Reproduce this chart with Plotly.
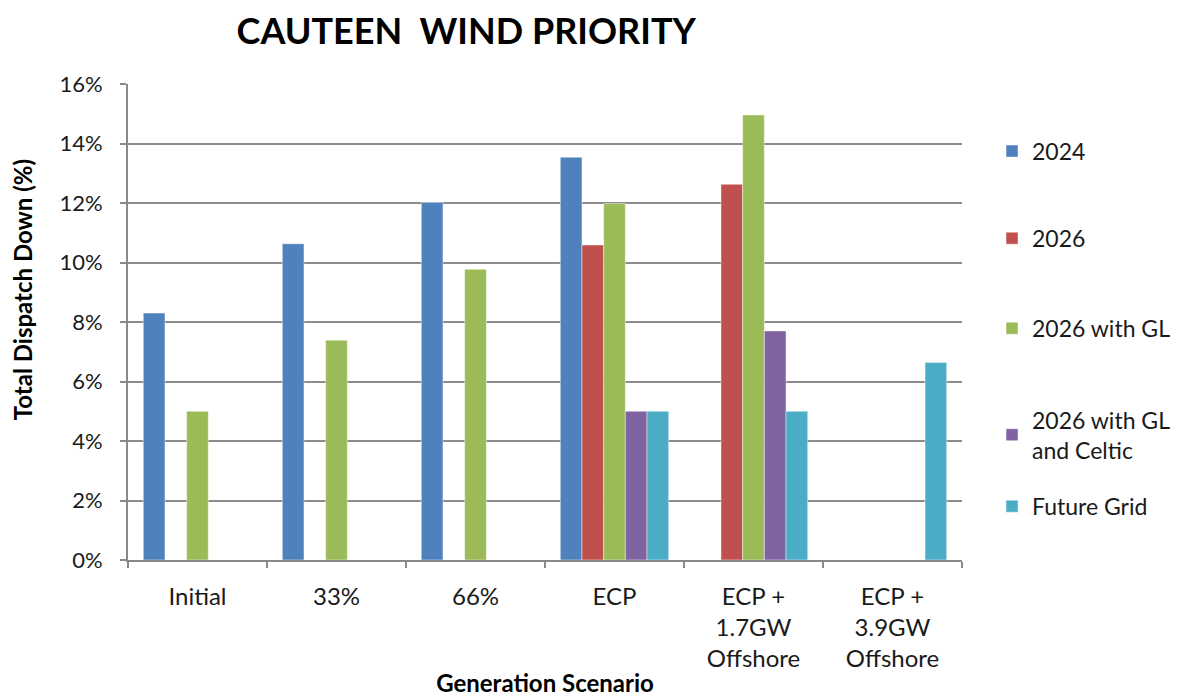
import plotly.graph_objects as go

categories = ["Initial", "33%", "66%", "ECP", "ECP +<br>1.7GW<br>Offshore", "ECP +<br>3.9GW<br>Offshore"]
series_names = ["2024", "2026", "2026 with GL", "2026 with GL<br>and Celtic", "Future Grid"]
v_2024 = [8.3, 10.63, 12.02, 13.54, None, None]
v_2026 = [None, None, None, 10.59, 12.63, None]
v_2026_gl = [5.0, 7.39, 9.77, 11.98, 14.96, None]
v_2026_gl_celtic = [None, None, None, 5.0, 7.7, None]
v_future_grid = [None, None, None, 5.0, 5.0, 6.64]
colors = ["#4F81BD", "#C0504D", "#9BBB59", "#8064A2", "#4BACC6"]
y_ticks = [0, 2, 4, 6, 8, 10, 12, 14, 16]

series_values = [v_2024, v_2026, v_2026_gl, v_2026_gl_celtic, v_future_grid]
legend_ids = ["legend", "legend2", "legend3", "legend4", "legend5"]
legend_y = [0.859, 0.676, 0.487, 0.263, 0.113]

FONT = "Lato, 'Open Sans', sans-serif"

fig = go.Figure()
for name, vals, col, lid in zip(series_names, series_values, colors, legend_ids):
    fig.add_trace(go.Bar(
        x=categories, y=vals, name=name,
        marker=dict(color=col, line=dict(color="rgba(255,255,255,0.45)", width=1)),
        legend=lid,
    ))

legend_common = dict(x=1.036, xanchor="left", yanchor="middle",
                     font=dict(family=FONT, size=23, color="#1a1a1a"),
                     bgcolor="rgba(0,0,0,0)", itemwidth=30)
layout_legends = {}
for lid, ly in zip(legend_ids, legend_y):
    layout_legends[lid] = dict(legend_common, y=ly)

fig.update_layout(
    width=1181, height=696,
    paper_bgcolor="white", plot_bgcolor="white",
    margin=dict(l=120, r=227, t=76, b=144),
    barmode="group", bargap=0.22, bargroupgap=0,
    showlegend=True,
    title=dict(text="<b>CAUTEEN  WIND PRIORITY</b>", x=0.388, xanchor="center",
               y=0.966, yanchor="middle", xref="container", yref="container",
               font=dict(family=FONT, size=36, color="black")),
    font=dict(family=FONT, size=20, color="#1a1a1a"),
    xaxis=dict(
        showline=True, linecolor="#898989", linewidth=2,
        ticks="outside", tickson="boundaries", ticklen=6, tickcolor="#898989", tickwidth=2,
        tickfont=dict(family=FONT, size=24, color="#1a1a1a"),
        ticklabelstandoff=14,
        title=dict(text="<b>Generation Scenario</b>", standoff=4,
                   font=dict(family=FONT, size=24, color="black")),
        automargin=False,
    ),
    yaxis=dict(
        range=[0, 16], tickvals=y_ticks, ticktext=[f"{t}%" for t in y_ticks],
        showline=True, linecolor="#898989", linewidth=2,
        ticks="outside", ticklen=6, tickcolor="#898989", tickwidth=2,
        showgrid=True, gridcolor="#8c8c8c", gridwidth=2,
        zeroline=False,
        tickfont=dict(family=FONT, size=22, color="#1a1a1a"),
        ticklabelstandoff=13,
        automargin=False,
    ),
    annotations=[dict(
        text="<b>Total Dispatch Down (%)</b>", textangle=-90,
        xref="paper", yref="paper", x=-0.127, y=0.567,
        xanchor="center", yanchor="middle", showarrow=False,
        font=dict(family=FONT, size=24, color="black"),
    )],
    **layout_legends,
)

fig.write_html("out.html")
